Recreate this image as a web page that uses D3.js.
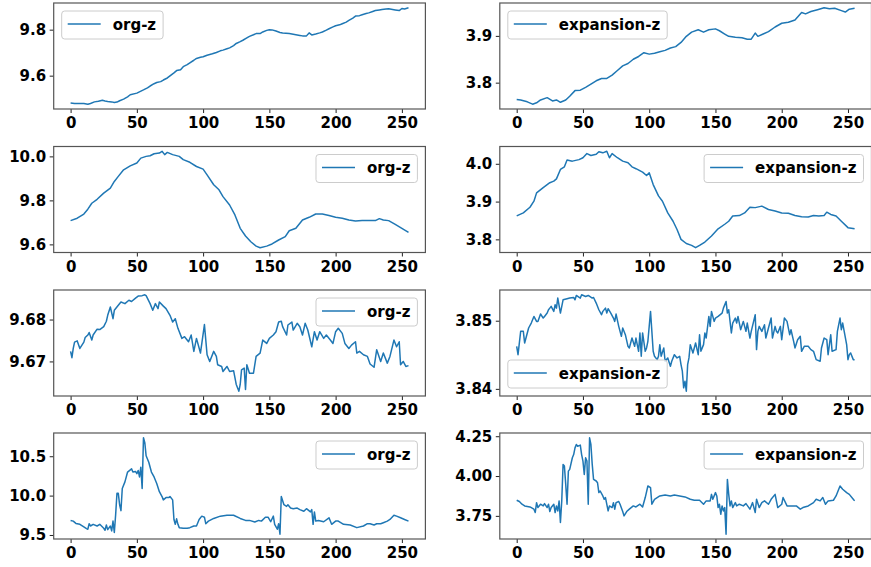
<!DOCTYPE html>
<html><head><meta charset="utf-8">
<script src="https://cdn.jsdelivr.net/npm/d3@7"></script>
<style>
body{margin:0;background:#fff}
svg{display:block}
text{font-family:"DejaVu Sans";font-weight:bold;font-size:15px;fill:#000}
</style>
</head><body><svg id="c" width="871" height="567"></svg>
<script>
// ---- data: [index, value] ----
const org1 = [[0,9.481],[3,9.479],[6,9.479],[10,9.479],[13,9.476],[15,9.479],[18,9.486],[21,9.489],[24,9.493],[26,9.490],[28,9.488],[31,9.486],[33,9.483],[35,9.485],[37,9.491],[40,9.498],[43,9.508],[45,9.517],[50,9.524],[55,9.538],[58,9.547],[60,9.555],[63,9.565],[65,9.570],[68,9.574],[70,9.581],[73,9.590],[75,9.599],[78,9.612],[80,9.622],[83,9.626],[85,9.639],[88,9.648],[90,9.656],[93,9.667],[95,9.675],[98,9.680],[100,9.682],[103,9.689],[105,9.692],[107,9.695],[110,9.701],[113,9.708],[115,9.711],[118,9.717],[120,9.721],[123,9.731],[125,9.740],[128,9.748],[130,9.754],[133,9.764],[135,9.771],[138,9.778],[140,9.783],[143,9.783],[145,9.790],[148,9.797],[150,9.800],[152,9.799],[155,9.794],[158,9.788],[160,9.786],[165,9.783],[170,9.778],[173,9.775],[175,9.773],[178,9.773],[180,9.786],[182,9.777],[185,9.781],[188,9.786],[190,9.790],[193,9.798],[195,9.804],[198,9.812],[200,9.817],[203,9.821],[205,9.826],[208,9.833],[210,9.840],[213,9.850],[215,9.859],[218,9.861],[220,9.865],[223,9.870],[225,9.873],[228,9.879],[230,9.883],[233,9.886],[235,9.888],[238,9.890],[240,9.891],[243,9.888],[245,9.886],[248,9.883],[250,9.892],[252,9.890],[255,9.895]];
const exp1 = [[0,3.764],[3,3.763],[8,3.759],[12,3.754],[15,3.757],[18,3.763],[23,3.768],[27,3.761],[30,3.763],[33,3.758],[37,3.763],[40,3.771],[44,3.783],[48,3.784],[52,3.790],[56,3.797],[60,3.804],[64,3.809],[68,3.809],[72,3.816],[76,3.826],[80,3.836],[84,3.841],[88,3.850],[92,3.856],[96,3.864],[100,3.861],[104,3.863],[108,3.866],[112,3.869],[116,3.874],[120,3.877],[124,3.886],[128,3.899],[132,3.908],[137,3.913],[141,3.908],[145,3.913],[150,3.915],[153,3.911],[157,3.904],[160,3.899],[165,3.897],[170,3.896],[174,3.893],[177,3.893],[180,3.906],[182,3.899],[186,3.904],[190,3.909],[195,3.919],[200,3.927],[205,3.929],[210,3.934],[215,3.950],[218,3.947],[222,3.952],[227,3.956],[232,3.960],[236,3.958],[240,3.959],[245,3.954],[248,3.951],[251,3.957],[255,3.959]];
const org2 = [[0,9.708],[5,9.719],[10,9.738],[13,9.760],[16,9.787],[20,9.805],[25,9.833],[30,9.856],[33,9.886],[36,9.909],[40,9.939],[45,9.957],[50,9.970],[53,9.992],[57,10.000],[60,10.003],[63,10.012],[67,10.015],[69,10.023],[71,10.008],[73,10.018],[77,10.008],[82,10.000],[85,9.985],[90,9.973],[95,9.954],[100,9.942],[103,9.916],[108,9.871],[112,9.848],[115,9.817],[120,9.779],[124,9.734],[128,9.673],[132,9.638],[136,9.612],[140,9.592],[143,9.585],[148,9.592],[152,9.602],[157,9.620],[162,9.635],[165,9.662],[170,9.673],[175,9.711],[180,9.723],[185,9.738],[190,9.738],[195,9.731],[200,9.723],[205,9.719],[210,9.711],[215,9.706],[220,9.708],[225,9.708],[230,9.708],[233,9.717],[236,9.711],[240,9.708],[245,9.691],[250,9.673],[255,9.655]];
const exp2 = [[0,3.862],[5,3.870],[10,3.885],[13,3.901],[15,3.923],[20,3.937],[25,3.950],[28,3.954],[30,3.960],[33,3.985],[36,3.992],[38,4.010],[42,4.007],[47,4.011],[50,4.016],[53,4.027],[56,4.022],[60,4.025],[62,4.032],[65,4.029],[68,4.033],[70,4.016],[72,4.027],[76,4.016],[80,4.007],[84,4.003],[87,3.992],[90,3.987],[95,3.978],[98,3.969],[100,3.976],[103,3.945],[107,3.915],[110,3.901],[114,3.870],[118,3.848],[121,3.826],[124,3.800],[128,3.789],[132,3.784],[135,3.778],[138,3.784],[142,3.793],[147,3.809],[152,3.828],[157,3.840],[160,3.848],[163,3.862],[168,3.863],[172,3.870],[176,3.885],[180,3.884],[185,3.888],[190,3.879],[195,3.875],[200,3.870],[205,3.869],[210,3.863],[215,3.860],[220,3.859],[224,3.863],[228,3.862],[232,3.863],[234,3.872],[237,3.866],[241,3.862],[245,3.848],[250,3.831],[255,3.828]];
const org3 = [[0,9.6724],[1,9.6709],[2,9.6731],[3,9.6746],[5,9.6749],[7,9.6731],[10,9.6746],[11,9.6757],[13,9.6763],[14,9.6769],[16,9.6751],[17,9.6763],[20,9.6777],[22,9.6776],[25,9.6783],[27,9.6796],[28,9.6810],[30,9.6830],[32,9.6802],[33,9.6822],[36,9.6834],[38,9.6842],[41,9.6838],[44,9.6846],[46,9.6843],[49,9.6851],[51,9.6856],[54,9.6857],[56,9.6859],[57,9.6857],[60,9.6838],[62,9.6822],[64,9.6838],[66,9.6826],[67,9.6842],[70,9.6832],[72,9.6826],[75,9.6810],[77,9.6794],[79,9.6802],[81,9.6779],[84,9.6755],[86,9.6759],[89,9.6747],[91,9.6763],[93,9.6724],[95,9.6755],[98,9.6720],[101,9.6788],[103,9.6716],[105,9.6700],[108,9.6724],[110,9.6712],[111,9.6692],[114,9.6688],[115,9.6676],[118,9.6688],[120,9.6676],[123,9.6678],[125,9.6645],[127,9.6629],[128,9.6645],[129,9.6680],[131,9.6684],[132,9.6633],[133,9.6692],[135,9.6672],[138,9.6672],[140,9.6712],[143,9.6720],[145,9.6751],[148,9.6743],[150,9.6755],[153,9.6763],[155,9.6771],[157,9.6794],[159,9.6796],[160,9.6783],[163,9.6763],[164,9.6787],[167,9.6794],[168,9.6775],[171,9.6791],[173,9.6783],[175,9.6763],[177,9.6791],[179,9.6775],[182,9.6735],[184,9.6771],[186,9.6751],[188,9.6771],[191,9.6755],[193,9.6763],[196,9.6751],[198,9.6743],[200,9.6771],[202,9.6779],[205,9.6767],[207,9.6743],[210,9.6731],[212,9.6739],[215,9.6747],[216,9.6720],[218,9.6724],[221,9.6716],[224,9.6712],[226,9.6694],[229,9.6686],[231,9.6728],[234,9.6700],[236,9.6720],[239,9.6696],[241,9.6712],[244,9.6751],[246,9.6735],[248,9.6747],[249,9.6692],[251,9.6700],[253,9.6688],[255,9.6690]];
const exp3 = [[0,3.84624],[1,3.84502],[3,3.84844],[5,3.84844],[6,3.84673],[9,3.84893],[11,3.84966],[13,3.85063],[15,3.8499],[16,3.8499],[18,3.85098],[20,3.85039],[21,3.85063],[23,3.85112],[24,3.85161],[25,3.85185],[26,3.8521],[28,3.85137],[29,3.85234],[30,3.85185],[31,3.85332],[33,3.85112],[35,3.85307],[38,3.85322],[40,3.85332],[43,3.85341],[44,3.85307],[45,3.85371],[48,3.85332],[49,3.8538],[52,3.85356],[54,3.85371],[57,3.85332],[58,3.85341],[60,3.85259],[62,3.85161],[64,3.85088],[65,3.85137],[67,3.85185],[68,3.85112],[69,3.85176],[71,3.85112],[73,3.85039],[74,3.8499],[75,3.85098],[77,3.84917],[79,3.84771],[80,3.84893],[82,3.84795],[84,3.84624],[85,3.846],[87,3.84746],[89,3.84624],[90,3.84746],[92,3.84551],[93,3.8482],[94,3.84478],[95,3.8482],[97,3.84551],[98,3.846],[99,3.84698],[101,3.85137],[103,3.84551],[104,3.84478],[106,3.84429],[107,3.84478],[108,3.84649],[109,3.84478],[111,3.846],[112,3.84405],[114,3.84454],[116,3.84332],[117,3.84405],[119,3.84502],[121,3.84454],[123,3.84478],[124,3.84356],[125,3.84259],[126,3.84015],[127,3.84112],[128,3.83966],[129,3.84356],[130,3.84454],[131,3.84649],[133,3.84527],[135,3.84673],[137,3.84502],[138,3.84795],[139,3.84551],[141,3.84649],[142,3.8482],[143,3.84746],[145,3.85063],[146,3.84917],[147,3.85137],[149,3.8499],[150,3.85039],[152,3.85063],[155,3.85112],[156,3.85185],[158,3.85283],[159,3.85112],[160,3.85161],[162,3.8482],[163,3.84966],[165,3.85039],[166,3.84966],[167,3.85063],[169,3.84868],[171,3.8499],[173,3.84844],[174,3.84966],[176,3.84746],[177,3.84844],[180,3.85088],[181,3.84576],[182,3.84844],[183,3.84917],[185,3.84844],[187,3.84941],[188,3.84746],[190,3.84893],[192,3.85039],[193,3.84746],[195,3.84917],[196,3.84844],[197,3.8482],[199,3.84917],[200,3.84722],[202,3.85039],[204,3.8499],[206,3.84795],[207,3.84868],[209,3.84698],[210,3.846],[212,3.84722],[214,3.84771],[215,3.84551],[217,3.84624],[220,3.84624],[222,3.84576],[224,3.84551],[226,3.84429],[229,3.84405],[230,3.846],[232,3.84746],[234,3.84722],[235,3.84502],[237,3.84795],[238,3.84551],[241,3.84576],[242,3.84844],[244,3.85039],[245,3.84868],[246,3.84966],[249,3.84649],[250,3.84429],[251,3.84502],[252,3.84527],[254,3.84429],[255,3.84429]];
const org4 = [[0,9.685],[2,9.676],[4,9.647],[7,9.635],[10,9.602],[12,9.581],[13,9.573],[14,9.643],[15,9.614],[17,9.635],[20,9.614],[22,9.635],[25,9.585],[26,9.560],[27,9.627],[28,9.568],[30,9.614],[31,9.552],[32,9.676],[33,9.531],[34,9.759],[35,10.029],[36,10.029],[37,9.884],[38,9.809],[39,10.091],[41,10.174],[43,10.299],[46,10.340],[47,10.299],[49,10.307],[50,10.278],[51,10.320],[52,10.237],[53,10.361],[54,10.090],[55,10.734],[56,10.672],[57,10.506],[59,10.423],[61,10.299],[63,10.237],[65,10.154],[67,10.050],[69,9.988],[70,9.946],[72,9.975],[74,9.975],[75,9.988],[77,9.946],[78,9.697],[79,9.635],[80,9.705],[81,9.635],[82,9.593],[85,9.585],[88,9.585],[90,9.593],[93,9.614],[95,9.614],[97,9.697],[99,9.739],[101,9.726],[102,9.643],[104,9.676],[108,9.710],[113,9.739],[118,9.751],[123,9.751],[128,9.710],[132,9.685],[135,9.685],[139,9.664],[142,9.685],[144,9.676],[147,9.726],[149,9.726],[151,9.668],[153,9.739],[154,9.635],[156,9.573],[157,9.643],[158,9.510],[159,9.988],[161,9.884],[163,9.863],[164,9.884],[166,9.842],[168,9.834],[171,9.842],[173,9.822],[176,9.801],[178,9.834],[181,9.793],[182,9.822],[183,9.635],[184,9.793],[185,9.676],[187,9.685],[191,9.668],[195,9.718],[197,9.635],[200,9.676],[202,9.676],[206,9.635],[211,9.627],[216,9.593],[221,9.614],[224,9.643],[226,9.643],[229,9.627],[231,9.643],[234,9.643],[236,9.656],[239,9.676],[241,9.697],[244,9.751],[246,9.739],[249,9.718],[252,9.697],[255,9.676]];
const exp4 = [[0,3.848],[2,3.840],[4,3.823],[6,3.8125],[10,3.806],[13,3.792],[14,3.771],[15,3.833],[16,3.802],[18,3.823],[20,3.8125],[21,3.827],[23,3.802],[24,3.823],[25,3.777],[26,3.802],[28,3.823],[29,3.771],[30,3.8125],[31,3.781],[32,3.844],[33,3.708],[34,3.844],[35,4.073],[36,4.0625],[37,3.948],[38,3.823],[39,4.031],[40,4.042],[42,4.115],[43,4.135],[44,4.177],[45,4.198],[46,4.1875],[48,4.194],[49,4.135],[50,4.094],[51,4.010],[52,4.115],[53,4.094],[54,3.823],[55,4.240],[56,4.198],[57,4.073],[58,3.979],[60,3.969],[61,3.958],[62,3.896],[63,3.906],[65,3.875],[66,3.854],[67,3.865],[69,3.781],[70,3.8125],[72,3.802],[73,3.833],[74,3.792],[75,3.833],[77,3.840],[78,3.823],[80,3.777],[81,3.750],[83,3.777],[85,3.792],[88,3.8125],[90,3.806],[93,3.823],[95,3.806],[97,3.865],[99,3.9375],[101,3.927],[102,3.823],[104,3.854],[108,3.875],[112,3.881],[116,3.875],[119,3.881],[123,3.875],[127,3.869],[131,3.854],[134,3.848],[138,3.848],[141,3.823],[143,3.844],[146,3.844],[147,3.885],[148,3.854],[150,3.896],[151,3.875],[152,3.802],[153,3.823],[154,3.760],[155,3.8125],[156,3.781],[157,3.802],[158,3.635],[159,3.979],[160,3.885],[161,3.8125],[162,3.844],[163,3.802],[165,3.833],[166,3.8125],[168,3.823],[171,3.8125],[173,3.827],[176,3.792],[178,3.833],[180,3.771],[181,3.854],[183,3.802],[185,3.833],[187,3.844],[190,3.823],[192,3.854],[195,3.885],[197,3.802],[200,3.823],[201,3.865],[204,3.8125],[207,3.8125],[211,3.8125],[214,3.792],[216,3.802],[220,3.8125],[224,3.833],[226,3.854],[229,3.844],[231,3.865],[233,3.823],[235,3.844],[239,3.848],[241,3.875],[244,3.9375],[246,3.917],[249,3.896],[251,3.885],[254,3.854],[255,3.844]];

const xTicks = [0, 50, 100, 150, 200, 250];
const yTicks1 = [9.6, 9.8], yTicks2 = [3.8, 3.9];
const yTicks3 = [9.6, 9.8, 10.0], yTicks4 = [3.8, 3.9, 4.0];
const yTicks5 = [9.67, 9.68], yTicks6 = [3.84, 3.85];
const yTicks7 = [9.5, 10.0, 10.5], yTicks8 = [3.75, 4.00, 4.25];
const labels = ["org-z", "expansion-z"];

const panels = [
  {data: org1, label: labels[0], ticks: yTicks1, fmt: ".1f", loc: "ul"},
  {data: exp1, label: labels[1], ticks: yTicks2, fmt: ".1f", loc: "ul"},
  {data: org2, label: labels[0], ticks: yTicks3, fmt: ".1f", loc: "ur"},
  {data: exp2, label: labels[1], ticks: yTicks4, fmt: ".1f", loc: "ur"},
  {data: org3, label: labels[0], ticks: yTicks5, fmt: ".2f", loc: "ur"},
  {data: exp3, label: labels[1], ticks: yTicks6, fmt: ".2f", loc: "ll"},
  {data: org4, label: labels[0], ticks: yTicks7, fmt: ".1f", loc: "ur"},
  {data: exp4, label: labels[1], ticks: yTicks8, fmt: ".2f", loc: "ur"},
];

// ---- layout ----
const colLeft = [53.7, 499.8], axW = 371.7;
const rowTop = [3, 146.5, 290, 433], axH = 106;
const lineColor = "#1f77b4";
const svg = d3.select("#c");

function padDomain(ext) {
  const d = (ext[1] - ext[0]) * 0.05;
  return [ext[0] - d, ext[1] + d];
}

panels.forEach((p, i) => {
  const r = Math.floor(i / 2), c = i % 2;
  const g = svg.append("g").attr("transform", `translate(${colLeft[c]},${rowTop[r]})`);
  const x = d3.scaleLinear().domain(padDomain(d3.extent(p.data, d => d[0]))).range([0, axW]);
  const y = d3.scaleLinear().domain(padDomain(d3.extent(p.data, d => d[1]))).range([axH, 0]);

  g.append("path").datum(p.data)
    .attr("fill", "none").attr("stroke", lineColor).attr("stroke-width", 1.5)
    .attr("stroke-linejoin", "round")
    .attr("d", d3.line().x(d => x(d[0])).y(d => y(d[1])));

  const xa = g.append("g").attr("transform", `translate(0,${axH})`)
    .call(d3.axisBottom(x).tickValues(xTicks).tickFormat(d3.format("d")).tickSize(4).tickPadding(4.5));
  const ya = g.append("g")
    .call(d3.axisLeft(y).tickValues(p.ticks).tickFormat(d3.format(p.fmt)).tickSize(4).tickPadding(3.5));
  [xa, ya].forEach(a => {
    a.select(".domain").remove();
    a.selectAll(".tick line").attr("stroke", "#222").attr("stroke-width", 1);
    a.selectAll("text").attr("font-family", "DejaVu Sans").attr("font-weight", "bold").attr("font-size", 15).attr("fill", "#000");
  });

  g.append("rect").attr("x", 0).attr("y", 0).attr("width", axW).attr("height", axH)
    .attr("fill", "none").attr("stroke", "#555").attr("stroke-width", 1.2);

  // legend
  const lg = g.append("g");
  const t = lg.append("text").text(p.label).attr("x", 51).attr("y", 18.5);
  const tw = t.node().getComputedTextLength();
  const lw = 51 + tw + 7, lh = 28;
  lg.insert("rect", "text").attr("x", 0).attr("y", 0).attr("width", lw).attr("height", lh)
    .attr("rx", 3).attr("ry", 3).attr("fill", "#fff").attr("fill-opacity", 0.8)
    .attr("stroke", "#ccc").attr("stroke-width", 1);
  lg.insert("line", "text").attr("x1", 6).attr("x2", 39).attr("y1", 13).attr("y2", 13)
    .attr("stroke", lineColor).attr("stroke-width", 1.5);
  const off = 8;
  let lx = off, ly = off;
  if (p.loc === "ur") lx = axW - off - lw;
  if (p.loc === "ll") ly = axH - off - lh;
  lg.attr("transform", `translate(${lx},${ly})`);
});
</script>
</body></html>
